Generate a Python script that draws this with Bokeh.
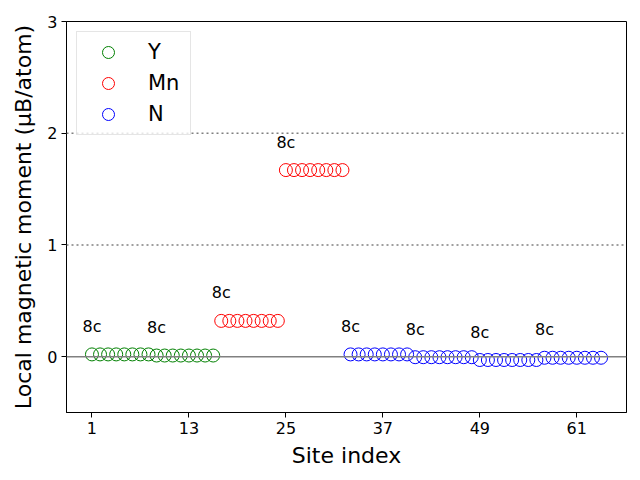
from bokeh.plotting import figure
from bokeh.models import Span, FixedTicker, Range1d, Legend, LegendItem, ColumnDataSource
from bokeh.embed import file_html
from bokeh.resources import INLINE
from bokeh.core.properties import value

# ---- data ----
y_sites = list(range(1, 17))
y_moments = [0.02, 0.02, 0.02, 0.02, 0.02, 0.02, 0.02, 0.02,
             0.01, 0.01, 0.01, 0.01, 0.01, 0.01, 0.01, 0.01]
mn_sites = list(range(17, 33))
mn_moments = [0.32, 0.32, 0.32, 0.32, 0.32, 0.32, 0.32, 0.32,
              1.67, 1.67, 1.67, 1.67, 1.67, 1.67, 1.67, 1.67]
n_sites = list(range(33, 65))
n_moments = [0.02, 0.02, 0.02, 0.02, 0.02, 0.02, 0.02, 0.02,
             -0.005, -0.005, -0.005, -0.005, -0.005, -0.005, -0.005, -0.005,
             -0.03, -0.03, -0.03, -0.03, -0.03, -0.03, -0.03, -0.03,
             -0.01, -0.01, -0.01, -0.01, -0.01, -0.01, -0.01, -0.01]
wyckoff_x = [1, 9, 17, 25, 33, 41, 49, 57]
wyckoff_y = [0.02, 0.01, 0.32, 1.67, 0.02, -0.005, -0.03, -0.01]
wyckoff_label = ["8c"] * 8
label_offset = 0.25
x_ticks = [1, 13, 25, 37, 49, 61]
y_ticks = [0, 1, 2, 3]
ref_solid = [0]
ref_dotted = [1, 2]

FONT = "DejaVu Sans"
FRAME_W, FRAME_H = 560, 391
X0, X1, Y0, Y1 = -2.15, 67.15, -0.5, 3.0

p = figure(frame_width=FRAME_W, frame_height=FRAME_H,
           min_border_left=66, min_border_top=21, min_border_right=14, min_border_bottom=68,
           x_range=Range1d(X0, X1), y_range=Range1d(Y0, Y1),
           output_backend="svg", toolbar_location=None, background_fill_color="white",
           border_fill_color="white")
p.grid.visible = False
p.outline_line_color = "black"
p.outline_line_width = 1

for loc in ref_solid:
    p.add_layout(Span(location=loc, dimension="width", line_color="gray", line_width=1.5))
for loc in ref_dotted:
    p.add_layout(Span(location=loc, dimension="width", line_color="gray", line_width=1.5,
                      line_dash="2 3"))

ry = p.scatter(y_sites, y_moments, marker="circle", size=13, fill_color=None,
               line_color="green", line_width=1)
rmn = p.scatter(mn_sites, mn_moments, marker="circle", size=13, fill_color=None,
                line_color="red", line_width=1)
rn = p.scatter(n_sites, n_moments, marker="circle", size=13, fill_color=None,
               line_color="blue", line_width=1)

src = ColumnDataSource(dict(x=wyckoff_x, y=[v + label_offset for v in wyckoff_y], t=wyckoff_label))
p.text(x="x", y="y", text="t", source=src, text_align="center", text_baseline="middle",
       text_font=value(FONT), text_font_size="16px", text_color="black")

legend = Legend(items=[LegendItem(label="Y", renderers=[ry]),
                       LegendItem(label="Mn", renderers=[rmn]),
                       LegendItem(label="N", renderers=[rn])],
                location=(10, 277), margin=0,
                padding=5, spacing=1, glyph_width=52, glyph_height=30,
                label_height=30, label_standoff=14, label_width=37,
                label_text_font=FONT, label_text_font_size="21px", label_text_color="black",
                border_line_color="#cccccc", border_line_width=1,
                background_fill_alpha=0.8)
p.add_layout(legend, "center")

p.xaxis.ticker = FixedTicker(ticks=x_ticks)
p.yaxis.ticker = FixedTicker(ticks=y_ticks)
for ax in (p.xaxis[0], p.yaxis[0]):
    ax.minor_tick_line_color = None
    ax.major_tick_in = 0
    ax.major_tick_out = 5
    ax.major_label_text_font = FONT
    ax.major_label_text_font_size = "16px"
    ax.major_label_text_color = "black"
    ax.axis_label_text_font = FONT
    ax.axis_label_text_font_size = "22px"
    ax.axis_label_text_font_style = "normal"
    ax.axis_label_text_color = "black"
    ax.axis_line_color = "black"
    ax.major_tick_line_color = "black"
p.xaxis.axis_label = "Site index"
p.yaxis.axis_label = "Local magnetic moment (μB/atom)"
p.xaxis.major_label_standoff = 4
p.yaxis.major_label_standoff = 4
p.xaxis.axis_label_standoff = 6
p.yaxis.axis_label_standoff = 8

open("out.html", "w").write(file_html(p, INLINE))
